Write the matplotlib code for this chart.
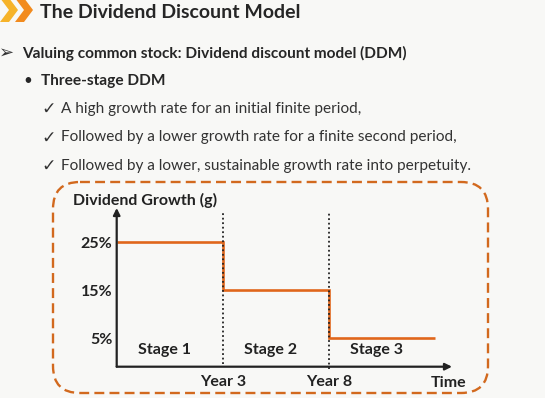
import matplotlib
matplotlib.use("Agg")
import matplotlib.pyplot as plt
from matplotlib.patches import FancyBboxPatch, Polygon

plt.rcParams['font.family'] = ['Lato', 'DejaVu Sans']

# slide text
title = "The Dividend Discount Model"
heading = "Valuing common stock: Dividend discount model (DDM)"
sub_heading = "Three-stage DDM"
points = ["A high growth rate for an initial finite period,",
          "Followed by a lower growth rate for a finite second period,",
          "Followed by a lower, sustainable growth rate into perpetuity."]

# chart data
stages = ["Stage 1", "Stage 2", "Stage 3"]
growth = [25, 15, 5]
growth_ticks = [25, 15, 5]
growth_labels = ["25%", "15%", "5%"]
boundary_labels = ["Year 3", "Year 8"]

W, H = 545, 398
fig = plt.figure(figsize=(W / 100, H / 100), dpi=100)
bg = '#F8F8F6'
fig.patch.set_facecolor(bg)

# overlay axes in pixel units for the slide decorations
ov = fig.add_axes([0, 0, 1, 1], zorder=0)
ov.set_xlim(0, W)
ov.set_ylim(H, 0)
ov.axis('off')

ov.add_patch(Polygon([(0, -2), (9, -2), (18, 10), (9, 22), (0, 22), (9, 10)],
                     closed=True, color='#F6B329', lw=0))
ov.add_patch(Polygon([(15, -2), (24, -2), (33, 10), (24, 22), (15, 22), (24, 10)],
                     closed=True, color='#F28B1E', lw=0))
ov.text(40, 12, title, fontsize=14, fontweight='bold', color='#262626',
        va='center', ha='left')

ov.text(-1, 53, "\u27a2", fontsize=13, color='#333333', va='center', ha='left',
        family=['DejaVu Sans'])
ov.text(22, 53, heading, fontsize=11.1, fontweight='bold', color='#262626',
        va='center', ha='left')
ov.text(23, 81, "\u2022", fontsize=11, color='#262626', va='center', ha='left')
ov.text(41, 81, sub_heading, fontsize=11.1, fontweight='bold', color='#262626',
        va='center', ha='left')
for i, p in enumerate(points):
    y = 109 + i * 28.5
    ov.text(41, y, "\u2713", fontsize=12.5, color='#333333', va='center', ha='left',
            family=['DejaVu Sans'])
    ov.text(61, y, p, fontsize=11.1, color='#333333', va='center', ha='left')

box = FancyBboxPatch((53, 182), 435, 211,
                     boxstyle="round,pad=0,rounding_size=27",
                     fill=False, edgecolor='#D2691E', lw=1.7,
                     linestyle=(0, (4.2, 2.2)))
ov.add_patch(box)
ov.text(73, 200, "Dividend Growth (g)", fontsize=11.5, color='#222222',
        va='center', ha='left', fontweight='bold')

# chart axes: left 116.7px, right 452px, bottom 366.7px, top 208px
left, right, bottom, top = 116.7, 452, 366.7, 208
ax = fig.add_axes([left / W, 1 - bottom / H, (right - left) / W, (bottom - top) / H],
                  zorder=1)
ax.patch.set_alpha(0)
ax.set_xlim(0, 3.16)
ax.set_ylim(-0.98, 32.1)
for s in ax.spines.values():
    s.set_visible(False)

edges = list(range(len(growth) + 1))
ax.stairs(growth, edges, baseline=None, color='#E0661B', lw=1.9)

for xb in edges[1:-1]:
    ax.plot([xb, xb], [-1.5 if xb == 2 else -0.5, 31], color='#222222',
            lw=1.3, linestyle=(0, (1, 1.5)), clip_on=False)

for i, s in enumerate(stages):
    ax.text(i + 0.45, 2.6, s, fontsize=11.5, color='#222222', ha='center',
            va='center', fontweight='bold')

ax.annotate('', xy=(0, 1), xytext=(0, 0), xycoords='axes fraction',
            arrowprops=dict(arrowstyle='-|>', color='#222222', lw=1.6,
                            mutation_scale=10, shrinkA=0, shrinkB=0))
ax.annotate('', xy=(1, 0), xytext=(0, 0), xycoords='axes fraction',
            arrowprops=dict(arrowstyle='-|>', color='#222222', lw=1.6,
                            mutation_scale=10, shrinkA=0, shrinkB=0))

ax.set_yticks(growth_ticks)
ax.set_yticklabels(growth_labels, fontsize=11.5, color='#222222',
                   fontweight='bold')
ax.set_xticks(edges[1:-1])
ax.set_xticklabels(boundary_labels, fontsize=11.5, color='#222222',
                   fontweight='bold')
ax.tick_params(length=0, pad=3, axis='y')
ax.tick_params(length=0, pad=6, axis='x')
ax.text(0.99, -0.06, "Time", transform=ax.transAxes, fontsize=11.5,
        color='#222222', ha='center', va='top', fontweight='bold')

fig.savefig('out.png', dpi=100, facecolor=bg)
